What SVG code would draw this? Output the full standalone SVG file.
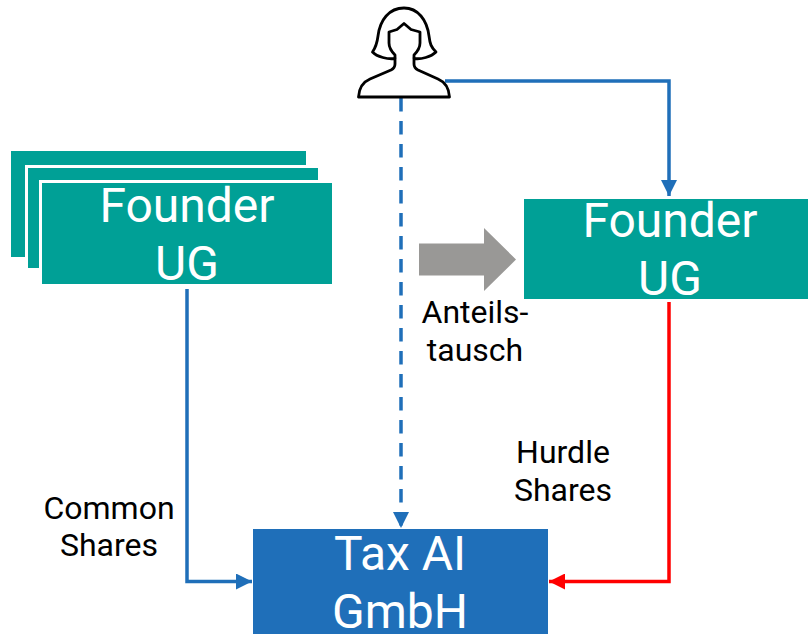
<svg xmlns="http://www.w3.org/2000/svg" width="808" height="634" viewBox="0 0 808 634">
<style>
.teal{fill:#00a096}
.big{font-family:Roboto,"Liberation Sans",sans-serif;font-weight:400;font-size:48px;fill:#fff;text-anchor:middle}
.lbl{font-family:Roboto,"Liberation Sans",sans-serif;font-size:32px;fill:#000;text-anchor:middle}
.conn{fill:none;stroke-width:3.500}
.blue{stroke:#1f6fb9}
.red{stroke:#ff0000}
.gap{fill:none;stroke:#fff;stroke-width:3}
.fig{stroke:#000;stroke-width:2.800;stroke-linejoin:round}
</style>
<defs>
<marker id="ab" markerUnits="userSpaceOnUse" markerWidth="16" markerHeight="16" refX="16" refY="8" orient="auto"><path d="M0 0L16 8L0 16Z" fill="#1f6fb9"/></marker>
<marker id="ar" markerUnits="userSpaceOnUse" markerWidth="16" markerHeight="16" refX="16" refY="8" orient="auto"><path d="M0 0L16 8L0 16Z" fill="#ff0000"/></marker>
</defs>
<g id="connectors">
<path class="conn blue" d="M445 81H669V196" marker-end="url(#ab)"/>
<path class="conn blue" d="M401 98V528" stroke-dasharray="13.5 9.5" marker-end="url(#ab)"/>
<path class="conn blue" d="M187 289V581.500H252" marker-end="url(#ab)"/>
<path class="conn red" d="M669 302V581.500H549" marker-end="url(#ar)"/>
</g>
<g id="person">
<path class="fig" d="M358.500 97H449.500C449 88 445 82 438 79L418 70C415 68.500 414 67 414 64V58.500C421 59.500 431 57 436 52C431 47 430 44 429 36C427 20 418 8 404 8C389 8 380 20 378 36C377 44 376 47 372.500 52C377 57 388 59.500 395 58.500V64C395 67 394 68.500 391 70L370 79C363 82 359 88 358.500 97Z" fill="#fff"/>
<path class="fig" d="M395 58.500V55C391 51 389 47 389 43V32L397 29.500L404 23.500L411 29.500L420 32V43C420 47 418 51 414 55V58.500" fill="none"/>
</g>
<g id="founder-stack">
<rect class="teal" x="11" y="151" width="295" height="106"/>
<path class="gap" d="M26.500 270V166.500H320"/>
<rect class="teal" x="28" y="168" width="290" height="100"/>
<path class="gap" d="M40.500 286V181.500H334"/>
<rect class="teal" x="42" y="183" width="290" height="101"/>
<text class="big" x="187" y="222">Founder</text>
<text class="big" x="187" y="280">UG</text>
</g>
<g id="founder-right">
<rect class="teal" x="524" y="199" width="284" height="100"/>
<text class="big" x="670" y="237">Founder</text>
<text class="big" x="670" y="295">UG</text>
</g>
<g id="tax-ai">
<rect x="253" y="529" width="295" height="105" fill="#1f6fb9"/>
<text class="big" x="400" y="570">Tax AI</text>
<text class="big" x="400" y="628">GmbH</text>
</g>
<g id="exchange-arrow">
<path d="M419 243.500H484V228L516 259.500L484 291V275.500H419Z" fill="#999896"/>
</g>
<g id="labels">
<text class="lbl" x="475" y="323">Anteils-</text>
<text class="lbl" x="475" y="361">tausch</text>
<text class="lbl" x="563" y="463">Hurdle</text>
<text class="lbl" x="563" y="501">Shares</text>
<text class="lbl" x="109" y="519">Common</text>
<text class="lbl" x="109" y="556">Shares</text>
</g>
</svg>
